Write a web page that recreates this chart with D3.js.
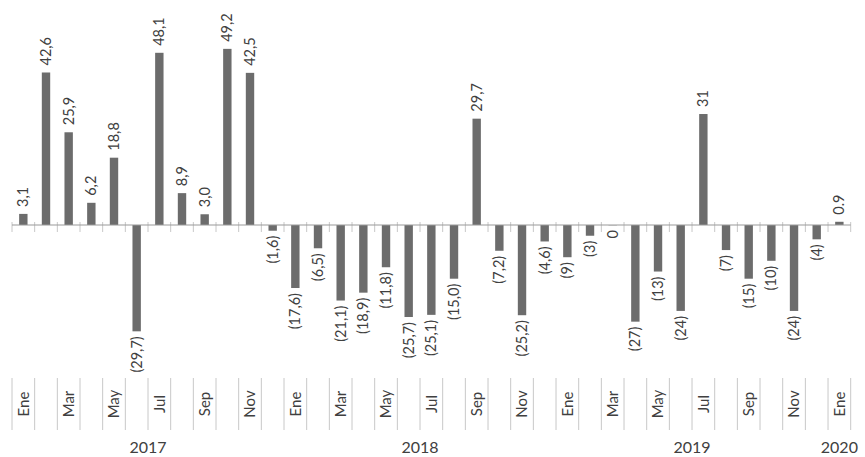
<!DOCTYPE html>
<html>
<head>
<meta charset="utf-8">
<script src="https://cdn.jsdelivr.net/npm/d3@7/dist/d3.min.js"></script>
<style>
  html, body { margin: 0; padding: 0; background: #ffffff; }
  svg { display: block; font-family: Lato, "Open Sans", sans-serif; }
</style>
</head>
<body>
<svg id="chart" width="865" height="457"></svg>
<script>
// Monthly variation, Ene 2017 – Ene 2020
const monthNames = ["Ene","Feb","Mar","Abr","May","Jun","Jul","Ago","Sep","Oct","Nov","Dic"];
const years = [2017, 2018, 2019, 2020];
const values2017 = [3.1, 42.6, 25.9, 6.2, 18.8, -29.7, 48.1, 8.9, 3.0, 49.2, 42.5, -1.6];
const values2018 = [-17.6, -6.5, -21.1, -18.9, -11.8, -25.7, -25.1, -15.0, 29.7, -7.2, -25.2, -4.6];
const values2019 = [-9, -3, 0, -27, -13, -24, 31, -7, -15, -10, -24, -4];
const values2020 = [0.9];
const yearValues = [values2017, values2018, values2019, values2020];
// decimals shown in the labels for each year, and the decimal mark used
const yearDecimals = [1, 1, 0, 1];
const yearSeparator = [",", ",", ",", "."];

const data = [];
yearValues.forEach((vals, yi) => {
  vals.forEach((v, mi) => {
    data.push({ i: data.length, year: years[yi], month: mi, value: v,
                dec: yearDecimals[yi], sep: yearSeparator[yi] });
  });
});

function fmt(d) {
  const s = Math.abs(d.value).toFixed(d.dec).replace(".", d.sep);
  return d.value < 0 ? "(" + s + ")" : s;
}

const svg = d3.select("#chart");
const barColor = "#6c6c6c";
const textColor = "#404040";
const gridColor = "#c8c8c8";

const x = d3.scaleBand()
  .domain(data.map(d => d.i))
  .range([12, 850.7])
  .paddingInner(0.63)
  .paddingOuter(0.315);

const y = d3.scaleLinear()
  .domain([-35, 55])
  .range([350.3, 28.1]);

const step = x.step();
const left = x.range()[0];
const cx = i => x(i) + x.bandwidth() / 2;

// month boundary ticks on the zero line
const bounds = d3.range(data.length + 1).map(k => left + k * step);
svg.append("g").selectAll("line")
  .data(bounds)
  .join("line")
  .attr("x1", d => d).attr("x2", d => d)
  .attr("y1", y(0) - 3).attr("y2", y(0) + 7)
  .attr("stroke", gridColor).attr("stroke-width", 1);

// bars
svg.append("g").selectAll("rect")
  .data(data)
  .join("rect")
  .attr("x", d => x(d.i))
  .attr("width", x.bandwidth())
  .attr("y", d => y(Math.max(0, d.value)))
  .attr("height", d => Math.max(Math.abs(y(d.value) - y(0)), d.value === 0 ? 1 : 0))
  .attr("fill", d => d.value === 0 ? "#d8d8d8" : barColor);

// zero line
svg.append("line")
  .attr("x1", left).attr("x2", bounds[bounds.length - 1])
  .attr("y1", y(0)).attr("y2", y(0))
  .attr("stroke", "#9a9a9a").attr("stroke-width", 1.2);

// value labels, rotated
svg.append("g").selectAll("text")
  .data(data)
  .join("text")
  .attr("transform", d => {
    const yy = d.value > 0 ? y(d.value) - 7 : y(d.value) + 5;
    return `translate(${cx(d.i)},${yy}) rotate(-90)`;
  })
  .attr("text-anchor", d => d.value > 0 ? "start" : "end")
  .attr("dy", "0.35em")
  .attr("font-size", 14.5)
  .attr("fill", textColor)
  .text(fmt);

// category band: boundaries and month names
const bandTop = 378, bandBottom = 430;
svg.append("g").selectAll("line")
  .data(bounds)
  .join("line")
  .attr("x1", d => d).attr("x2", d => d)
  .attr("y1", bandTop).attr("y2", bandBottom)
  .attr("stroke", gridColor).attr("stroke-width", 1);

svg.append("g").selectAll("text")
  .data(data.filter(d => d.month % 2 === 0))
  .join("text")
  .attr("transform", d => `translate(${cx(d.i)},${(bandTop + bandBottom) / 2}) rotate(-90)`)
  .attr("text-anchor", "middle")
  .attr("dy", "0.35em")
  .attr("font-size", 15)
  .attr("fill", textColor)
  .text(d => monthNames[d.month]);

// year labels centred under their months
svg.append("g").selectAll("text")
  .data(years)
  .join("text")
  .attr("x", yr => {
    const ms = data.filter(d => d.year === yr);
    const c = (cx(ms[0].i) + cx(ms[ms.length - 1].i)) / 2;
    return Math.min(c, 860 - 20);
  })
  .attr("y", 453)
  .attr("text-anchor", "middle")
  .attr("font-size", 16)
  .attr("fill", textColor)
  .text(yr => yr);
</script>
</body>
</html>
